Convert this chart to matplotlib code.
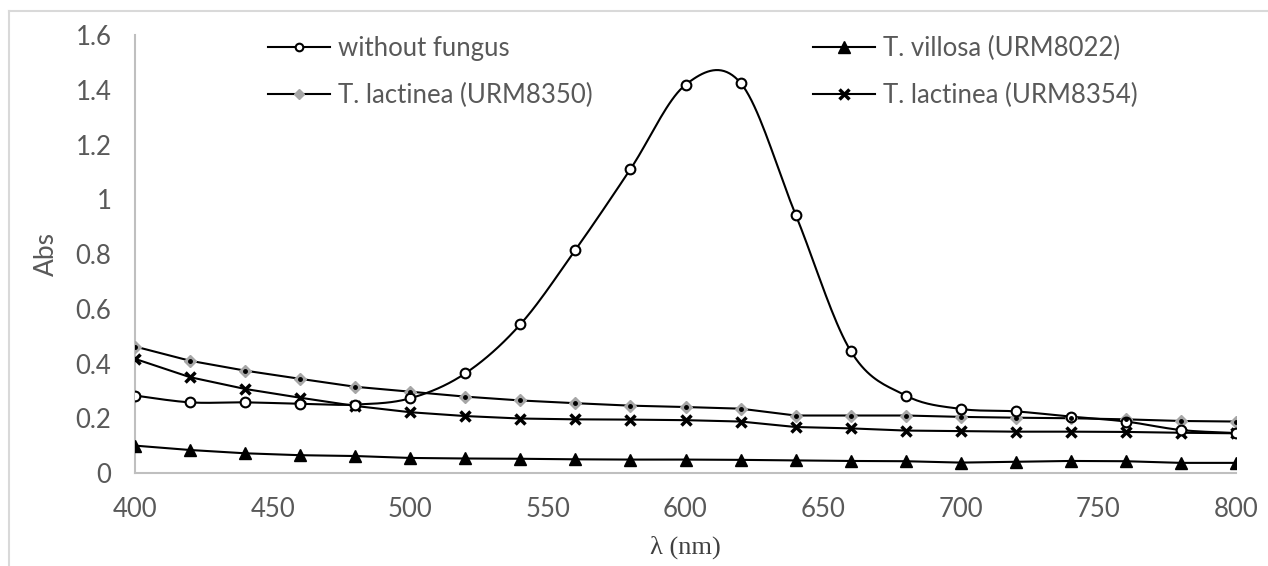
import numpy as np
import matplotlib
matplotlib.use("Agg")
import matplotlib.pyplot as plt
from matplotlib.lines import Line2D

wavelength = [400, 420, 440, 460, 480, 500, 520, 540, 560, 580, 600,
              620, 640, 660, 680, 700, 720, 740, 760, 780, 800]
without_fungus = [0.283, 0.258, 0.258, 0.253, 0.250, 0.273, 0.364, 0.543, 0.815, 1.110, 1.418,
                  1.425, 0.944, 0.446, 0.283, 0.234, 0.225, 0.206, 0.188, 0.157, 0.146]
villosa_8022 = [0.100, 0.084, 0.072, 0.065, 0.062, 0.055, 0.053, 0.052, 0.050, 0.049, 0.049,
                0.048, 0.046, 0.044, 0.043, 0.038, 0.041, 0.044, 0.043, 0.037, 0.037]
lactinea_8350 = [0.462, 0.410, 0.374, 0.344, 0.315, 0.297, 0.279, 0.265, 0.255, 0.246, 0.241,
                 0.235, 0.210, 0.210, 0.210, 0.205, 0.202, 0.200, 0.196, 0.190, 0.188]
lactinea_8354 = [0.417, 0.350, 0.307, 0.275, 0.245, 0.222, 0.208, 0.199, 0.196, 0.195, 0.193,
                 0.188, 0.168, 0.163, 0.155, 0.153, 0.151, 0.151, 0.150, 0.147, 0.145]
labels = ["without fungus", "T. villosa (URM8022)", "T. lactinea (URM8350)", "T. lactinea (URM8354)"]
xticks = [400, 450, 500, 550, 600, 650, 700, 750, 800]
yticks = [0, 0.2, 0.4, 0.6, 0.8, 1.0, 1.2, 1.4, 1.6]
yticklabels = ["0", "0.2", "0.4", "0.6", "0.8", "1", "1.2", "1.4", "1.6"]


def smooth(x, y, n=20, t=0.5):
    """Catmull-Rom style smoothing of the drawn line (like Excel smoothed lines)."""
    x = np.asarray(x, float)
    y = np.asarray(y, float)
    px = np.concatenate([[x[0]], x, [x[-1]]])
    py = np.concatenate([[y[0]], y, [y[-1]]])
    xs, ys = [], []
    s = np.linspace(0, 1, n, endpoint=False)
    for i in range(1, len(px) - 2):
        p0 = np.array([px[i - 1], py[i - 1]])
        p1 = np.array([px[i], py[i]])
        p2 = np.array([px[i + 1], py[i + 1]])
        p3 = np.array([px[i + 2], py[i + 2]])
        c1 = p1 + (p2 - p0) * t / 3
        c2 = p2 - (p3 - p1) * t / 3
        for u in s:
            b = ((1 - u) ** 3) * p1 + 3 * ((1 - u) ** 2) * u * c1 + 3 * (1 - u) * u ** 2 * c2 + u ** 3 * p2
            xs.append(b[0]); ys.append(b[1])
    xs.append(x[-1]); ys.append(y[-1])
    return np.array(xs), np.array(ys)


plt.rcParams['font.family'] = ['Lato', 'DejaVu Sans']
W, H = 1268, 566
fig = plt.figure(figsize=(W / 100, H / 100), dpi=100)
ax = fig.add_axes([135 / W, 1 - 473 / H, (1236 - 135) / W, (473 - 35) / H])

# outer frame (top and left edges only)
fig.lines.append(Line2D([9 / W, 9 / W], [0, 1 - 11 / H], transform=fig.transFigure, color='#d9d9d9', lw=1.5))
fig.lines.append(Line2D([9 / W, 1], [1 - 11 / H, 1 - 11 / H], transform=fig.transFigure, color='#d9d9d9', lw=1.5))

lc = 'black'
lw = 1.5
FS = 18.5
# without fungus (smoothed line)
sx, sy = smooth(wavelength, without_fungus)
ax.plot(sx, sy, color=lc, lw=lw, zorder=3)
ax.plot(wavelength, without_fungus, ls='none', marker='o', ms=7, mfc='white', mec='black', mew=1.5, zorder=4)
h1 = ax.plot([], [], color=lc, lw=lw, marker='o', ms=5.5, mfc='white', mec='black', mew=1.5)[0]

# villosa
h2 = ax.plot(wavelength, villosa_8022, color=lc, lw=lw, marker='^', ms=8, mfc='black', mec='black', zorder=3)[0]

# lactinea 8350
ax.plot(wavelength, lactinea_8350, color=lc, lw=lw, marker='D', ms=6, mfc='#a6a6a6', mec='#a6a6a6', zorder=3)
ax.plot(wavelength, lactinea_8350, ls='none', marker='o', ms=2.5, mfc='black', mec='black', zorder=4)
h3 = ax.plot([], [], color=lc, lw=lw, marker='D', ms=5, mfc='#a6a6a6', mec='#a6a6a6')[0]

# lactinea 8354
h4 = ax.plot(wavelength, lactinea_8354, color=lc, lw=lw, marker='x', ms=7, mec='black', mew=2.5, zorder=3)[0]

ax.set_xlim(400, 800)
ax.set_ylim(0, 1.6)
ax.set_xticks(xticks)
ax.set_yticks(yticks)
ax.set_yticklabels(yticklabels)
ax.tick_params(axis='both', length=0, labelsize=FS, labelcolor='#595959')
ax.tick_params(axis='y', pad=17)
ax.tick_params(axis='x', pad=17)
for s in ['top', 'right']:
    ax.spines[s].set_visible(False)
for s in ['left', 'bottom']:
    ax.spines[s].set_color('#bfbfbf')
    ax.spines[s].set_linewidth(1.5)
ax.spines['bottom'].set_zorder(5)

ax.set_ylabel('Abs', fontsize=19, color='#595959', labelpad=12)
ax.set_xlabel('λ (nm)', fontsize=19, color='#404040', family=['Liberation Serif', 'DejaVu Serif'], labelpad=10)

leg = ax.legend([h1, h3, h2, h4], [labels[0], labels[2], labels[1], labels[3]], ncol=2,
                loc='upper left', bbox_to_anchor=(0.1, 1.05), frameon=False, fontsize=FS,
                handlelength=2.4, columnspacing=8.6, labelspacing=0.85, handletextpad=0.3)
for t in leg.get_texts():
    t.set_color('#595959')

fig.savefig('out.png', dpi=100)
